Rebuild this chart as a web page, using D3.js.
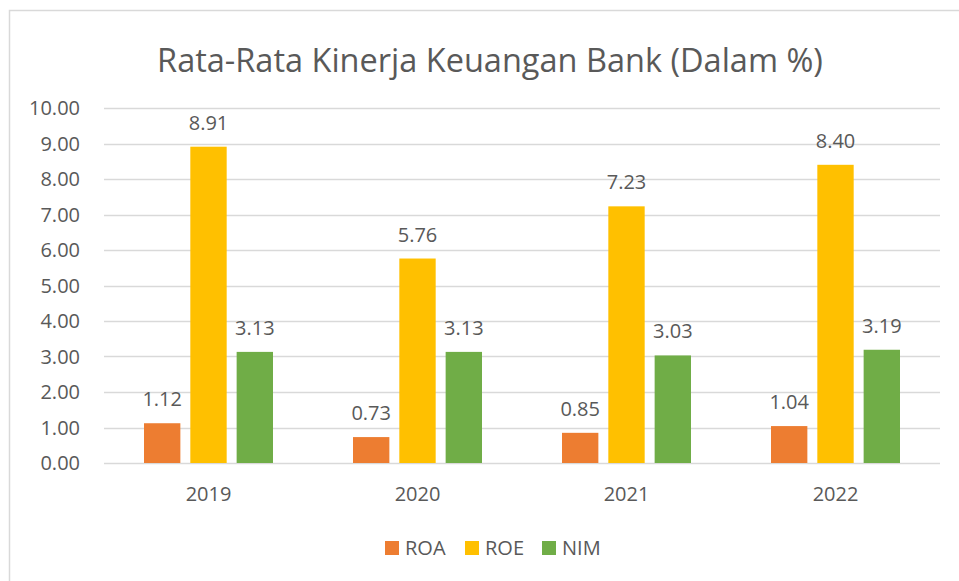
<!DOCTYPE html>
<html>
<head>
<meta charset="utf-8">
<script src="https://cdn.jsdelivr.net/npm/d3@7"></script>
<style>
  body { margin: 0; background: #fff; }
  text { font-family: "Open Sans", "Noto Sans", sans-serif; fill: #595959; }
</style>
</head>
<body>
<div id="chart"></div>
<script>
// dati
const years = ["2019", "2020", "2021", "2022"];
const seriesNames = ["ROA", "ROE", "NIM"];
const roa = [1.12, 0.73, 0.85, 1.04];
const roe = [8.91, 5.76, 7.23, 8.40];
const nim = [3.13, 3.13, 3.03, 3.19];
const yTicks = [0, 1, 2, 3, 4, 5, 6, 7, 8, 9, 10];
const colors = ["#ED7D31", "#FFC000", "#70AD47"];

const W = 959, H = 581;
const svg = d3.select("#chart").append("svg").attr("width", W).attr("height", H);

// bordo del riquadro (esce a destra e in basso)
svg.append("rect")
  .attr("x", 9.5).attr("y", 10.5).attr("width", W).attr("height", H)
  .attr("fill", "none").attr("stroke", "#D9D9D9").attr("stroke-width", 1.5);

// titolo
svg.append("text")
  .attr("x", 490).attr("y", 72)
  .attr("text-anchor", "middle")
  .style("font-size", "32.5px")
  .text("Rata-Rata Kinerja Keuangan Bank (Dalam %)");

const x0 = d3.scaleBand().domain(years).range([104, 940]);
const groupW = 129;
const x1 = d3.scaleBand().domain(seriesNames).range([0, groupW]).paddingInner(0.215);
const y = d3.scaleLinear().domain([0, 10]).range([463, 108]);

// griglia
svg.append("g").selectAll("line").data(yTicks).enter().append("line")
  .attr("x1", 104).attr("x2", 940)
  .attr("y1", d => Math.round(y(d)) + 0.5).attr("y2", d => Math.round(y(d)) + 0.5)
  .attr("stroke", "#D9D9D9").attr("stroke-width", 1.3);

// etichette asse y
svg.append("g").selectAll("text").data(yTicks).enter().append("text")
  .attr("x", 80).attr("y", d => y(d)).attr("dy", "0.36em")
  .attr("text-anchor", "end")
  .style("font-size", "20px")
  .text(d => d.toFixed(2));

// etichette asse x
svg.append("g").selectAll("text").data(years).enter().append("text")
  .attr("x", d => x0(d) + x0.bandwidth() / 2).attr("y", 501)
  .attr("text-anchor", "middle")
  .style("font-size", "20px")
  .text(d => d);

const rows = [];
years.forEach((yr, i) => {
  rows.push({ year: yr, s: "ROA", v: roa[i], c: colors[0] });
  rows.push({ year: yr, s: "ROE", v: roe[i], c: colors[1] });
  rows.push({ year: yr, s: "NIM", v: nim[i], c: colors[2] });
});
const off = (x0.bandwidth() - groupW) / 2;

svg.append("g").selectAll("rect").data(rows).enter().append("rect")
  .attr("x", d => x0(d.year) + off + x1(d.s))
  .attr("y", d => y(d.v))
  .attr("width", x1.bandwidth())
  .attr("height", d => y(0) - y(d.v))
  .attr("fill", d => d.c);

svg.append("g").selectAll("text").data(rows).enter().append("text")
  .attr("x", d => x0(d.year) + off + x1(d.s) + x1.bandwidth() / 2)
  .attr("y", d => y(d.v) - 17)
  .attr("text-anchor", "middle")
  .style("font-size", "20px")
  .text(d => d.v.toFixed(2));

// legenda
const legX = [385, 465, 542];
const leg = svg.append("g").selectAll("g").data(seriesNames).enter().append("g")
  .attr("transform", (d, i) => `translate(${legX[i]},541)`);
leg.append("rect").attr("width", 14).attr("height", 14).attr("fill", (d, i) => colors[i]);
leg.append("text").attr("x", 20).attr("y", 7).attr("dy", "0.36em")
  .style("font-size", "20px").text(d => d);
</script>
</body>
</html>
